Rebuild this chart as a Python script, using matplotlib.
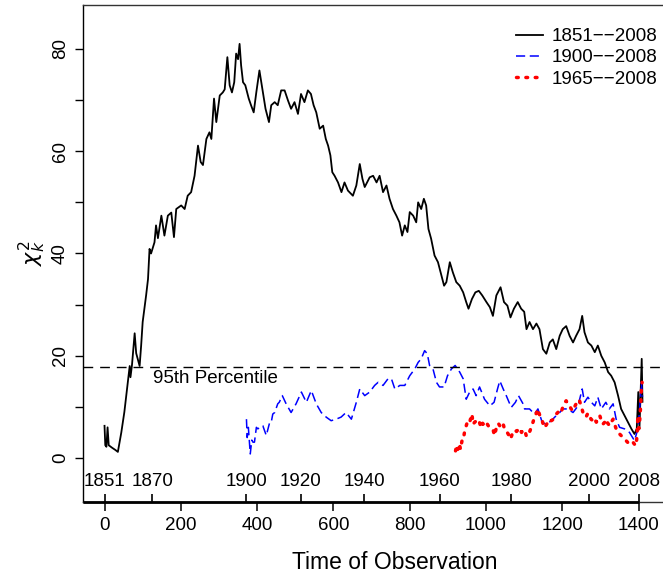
import matplotlib
matplotlib.use('Agg')
import matplotlib.pyplot as plt
from matplotlib.ticker import MultipleLocator, FixedLocator, NullFormatter

plt.rcParams['font.family'] = ['Liberation Sans', 'DejaVu Sans']

# full record 1851--2008
idx_all = [0, 2, 5, 8, 11, 20, 28, 35, 44, 52, 61, 66, 68, 72, 79, 83, 92, 96, 100, 109,
           114, 118, 122, 131, 135, 140, 149, 157, 166, 175, 182, 188, 201, 210, 218, 227,
           236, 245, 252, 258, 267, 275, 280, 287, 293, 302, 310, 315, 322, 328, 334, 340,
           345, 350, 354, 358, 363, 369, 378, 384, 391, 398, 406, 415, 422, 431, 437, 446,
           454, 463, 472, 481, 489, 498, 507, 515, 524, 533, 541, 548, 555, 564, 573, 580,
           586, 592, 597, 603, 612, 621, 629, 638, 651, 660, 669, 676, 682, 695, 704, 713,
           721, 730, 739, 747, 756, 765, 773, 780, 787, 794, 800, 809, 817, 822, 830, 837,
           843, 849, 856, 865, 874, 881, 890, 896, 905, 913, 922, 931, 940, 948, 954, 963,
           972, 981, 990, 1001, 1010, 1018, 1027, 1038, 1047, 1056, 1064, 1073, 1083, 1092,
           1100, 1106, 1114, 1123, 1132, 1140, 1149, 1158, 1167, 1175, 1184, 1193, 1201,
           1210, 1219, 1228, 1236, 1245, 1252, 1258, 1267, 1276, 1285, 1293, 1302, 1311,
           1320, 1328, 1337, 1346, 1354, 1363, 1372, 1381, 1389, 1395, 1399, 1402, 1408, 1410]
chi_all = [6.3, 2.5, 2.2, 6.0, 2.5, 2.0, 1.6, 1.2, 5.0, 9.0, 14.8, 18.0, 15.8, 18.2, 24.4,
           20.5, 18.0, 22.0, 26.6, 31.8, 35.0, 40.9, 40.0, 42.2, 45.5, 43.0, 47.4, 43.5,
           47.4, 48.0, 43.2, 48.7, 49.4, 48.7, 51.3, 52.0, 55.2, 61.1, 57.9, 57.3, 62.4,
           63.7, 62.4, 70.3, 65.7, 70.9, 71.5, 72.1, 78.4, 72.9, 71.5, 73.5, 79.1, 78.0,
           81.0, 76.8, 73.5, 72.9, 70.3, 69.0, 67.6, 71.6, 75.8, 71.6, 68.3, 65.7, 69.0,
           69.6, 69.0, 71.9, 71.9, 69.9, 68.3, 69.6, 67.3, 71.2, 69.6, 71.9, 71.2, 69.0,
           67.6, 64.4, 65.0, 62.4, 61.1, 59.2, 55.9, 55.2, 53.9, 52.0, 53.9, 52.3, 51.3,
           53.3, 57.5, 54.6, 53.0, 54.9, 55.2, 53.9, 55.2, 52.0, 53.3, 50.7, 48.7, 47.4,
           46.1, 43.5, 45.5, 44.2, 48.1, 47.4, 46.1, 50.0, 48.7, 50.7, 49.4, 44.8, 42.9,
           39.6, 38.3, 36.3, 33.7, 34.4, 38.3, 36.3, 34.4, 33.7, 32.4, 30.5, 29.2, 31.1,
           32.4, 32.7, 31.8, 30.5, 29.5, 27.8, 31.8, 33.4, 30.5, 29.8, 27.5, 29.2, 30.5,
           29.2, 28.6, 25.2, 26.6, 25.2, 26.3, 25.2, 21.3, 20.4, 22.6, 23.2, 21.3, 23.9,
           25.2, 25.8, 23.9, 22.6, 23.9, 25.2, 27.8, 24.6, 22.6, 22.0, 20.7, 22.0, 20.0,
           18.7, 16.8, 16.1, 14.8, 12.2, 9.6, 8.3, 7.0, 5.7, 4.7, 5.7, 12.9, 5.7, 19.4, 11.0]

# record from 1900
idx_1900 = [372, 374, 377, 382, 386, 389, 393, 398, 402, 411, 415, 424, 433, 437, 441, 446,
            454, 458, 466, 476, 489, 502, 516, 529, 542, 555, 568, 581, 594, 607, 620, 633,
            647, 660, 669, 682, 695, 708, 717, 730, 743, 752, 761, 774, 787, 800, 813, 822,
            830, 839, 846, 852, 861, 870, 878, 890, 899, 909, 919, 931, 940, 948, 957, 966,
            974, 983, 996, 1010, 1021, 1030, 1036, 1045, 1053, 1066, 1077, 1085, 1097, 1101,
            1114, 1127, 1136, 1147, 1158, 1171, 1184, 1193, 1201, 1214, 1228, 1241, 1252,
            1258, 1267, 1276, 1285, 1293, 1302, 1314, 1323, 1333, 1341, 1350, 1363, 1376,
            1389, 1398, 1402, 1407, 1410]
chi_1900 = [7.6, 4.0, 6.0, 0.8, 3.5, 3.1, 3.1, 6.0, 5.7, 6.3, 6.3, 4.4, 7.0, 7.0, 8.6, 8.9,
            10.6, 10.9, 12.2, 10.6, 8.9, 10.6, 12.9, 10.9, 13.2, 10.6, 8.9, 8.0, 7.3, 7.6,
            8.0, 8.9, 7.6, 10.9, 13.5, 12.2, 12.9, 14.2, 14.8, 14.2, 15.5, 15.5, 13.5, 14.2,
            14.2, 16.1, 17.4, 18.7, 19.4, 21.0, 20.4, 18.1, 17.4, 14.8, 13.9, 13.9, 16.1,
            17.4, 18.1, 16.8, 15.5, 11.5, 12.9, 13.5, 12.2, 13.9, 11.5, 10.2, 10.9, 13.5,
            15.1, 13.5, 12.2, 9.9, 10.9, 12.2, 10.6, 9.6, 9.6, 8.6, 9.6, 7.0, 6.6, 7.3, 8.3,
            8.9, 9.6, 9.6, 8.9, 10.2, 13.5, 10.9, 11.9, 10.9, 10.2, 11.9, 9.6, 10.9, 9.6,
            10.6, 7.6, 6.0, 5.7, 5.0, 3.4, 5.7, 8.9, 14.8, 12.0]

# record from 1965
idx_1965 = [920, 923, 926, 930, 933, 937, 940, 944, 948, 952, 957, 963, 966, 970, 975, 979,
            983, 987, 991, 996, 1001, 1006, 1012, 1018, 1022, 1027, 1032, 1036, 1041, 1045,
            1049, 1053, 1058, 1064, 1070, 1075, 1080, 1088, 1093, 1097, 1101, 1106, 1110,
            1114, 1118, 1123, 1127, 1132, 1136, 1140, 1145, 1149, 1153, 1158, 1162, 1167,
            1171, 1175, 1180, 1184, 1188, 1193, 1197, 1201, 1206, 1210, 1214, 1219, 1223,
            1228, 1232, 1236, 1241, 1245, 1250, 1254, 1258, 1262, 1267, 1271, 1275, 1280,
            1284, 1289, 1293, 1298, 1302, 1306, 1311, 1315, 1319, 1324, 1328, 1333, 1337,
            1341, 1345, 1350, 1354, 1359, 1363, 1367, 1372, 1376, 1380, 1385, 1389, 1393,
            1396, 1398, 1400, 1402, 1405, 1407, 1409]
chi_1965 = [1.4, 2.5, 1.7, 2.8, 1.7, 3.4, 3.4, 5.3, 6.3, 7.3, 7.0, 8.6, 6.6, 7.0, 7.3, 6.6,
            6.9, 5.9, 6.8, 6.3, 6.9, 6.3, 6.1, 5.7, 4.4, 5.9, 6.8, 6.3, 7.0, 6.6, 5.5, 5.3,
            4.7, 3.7, 5.0, 5.5, 5.2, 5.9, 5.0, 5.5, 5.5, 4.2, 4.4, 5.1, 5.9, 7.0, 8.0, 8.8,
            9.6, 8.5, 8.0, 6.8, 5.9, 6.5, 7.0, 7.6, 7.3, 7.5, 7.9, 8.6, 8.9, 9.4, 9.0, 9.9,
            10.8, 11.2, 10.5, 10.2, 9.6, 9.2, 10.0, 10.6, 10.4, 11.2, 10.0, 8.9, 8.3, 8.0,
            8.8, 8.3, 7.6, 7.3, 7.8, 7.0, 7.5, 8.3, 7.4, 6.6, 7.0, 7.6, 6.8, 6.3, 7.0, 7.6,
            6.6, 5.7, 5.0, 4.7, 4.4, 4.1, 3.8, 3.4, 3.0, 2.8, 3.2, 3.1, 2.7, 2.4, 4.5, 8.3,
            5.7, 6.5, 10.0, 13.5, 14.8]

percentile_95 = 17.9

year_ticks = [0, 125, 372, 514, 680, 878, 1066, 1269, 1400]
year_labels = ['1851', '1870', '1900', '1920', '1940', '1960', '1980', '2000', '2008']

XLIM = (-56.4, 1466.4)
YLIM = (-8.6, 88.6)
FS = 13.5


def main():
    fig = plt.figure(figsize=(6.63, 5.78), dpi=100)
    ax = fig.add_axes([83 / 663, 1 - 502 / 578, 581 / 663, 497 / 578])

    ax.plot(idx_all, chi_all, color='black', lw=1.3, label='1851\u2212\u22122008')
    ax.plot(idx_1900, chi_1900, color='blue', lw=1.1, dashes=(6, 3),
            label='1900\u2212\u22122008')
    ax.plot(idx_1965, chi_1965, color='red', lw=2.5, dashes=(0.5, 2.2),
            dash_capstyle='round', label='1965\u2212\u22122008')

    ax.axhline(percentile_95, color='black', lw=1.0, dashes=(7, 5))
    ax.text(292, 15.6, '95th Percentile', ha='center', va='center', fontsize=FS)

    # year labels sit just above the bottom frame, ticks point inward
    for x, lab in zip(year_ticks, year_labels):
        ax.text(x, -4.6, lab, ha='center', va='center', fontsize=FS)
    ax.xaxis.remove_overlapping_locs = False
    ax.xaxis.set_minor_locator(FixedLocator(year_ticks))
    ax.xaxis.set_minor_formatter(NullFormatter())
    ax.tick_params(axis='x', which='minor', direction='in', length=5.5, width=1.2)
    ax.plot([XLIM[0], year_ticks[-1]], [YLIM[0], YLIM[0]], color='black', lw=2.0,
            clip_on=False, solid_capstyle='butt', zorder=5)

    ax.set_xlim(*XLIM)
    ax.set_ylim(*YLIM)
    ax.set_xticks(range(0, 1401, 200))
    ax.set_yticks(range(0, 81, 20))
    ax.yaxis.set_minor_locator(MultipleLocator(10))
    ax.tick_params(axis='x', which='major', length=6.5, width=1.1, pad=4, labelsize=FS)
    ax.tick_params(axis='y', which='major', length=6, width=1.0, pad=4, labelsize=FS)
    ax.tick_params(axis='y', which='minor', length=6, width=1.0)
    for lab in ax.get_yticklabels():
        lab.set_rotation(90)
        lab.set_va('center')
    for s in ax.spines.values():
        s.set_color('#333333')
        s.set_linewidth(1.0)
    ax.spines['left'].set_color('black')

    ax.set_xlabel('Time of Observation', fontsize=16.5)
    ax.xaxis.set_label_coords(0.536, -0.099)
    ax.set_ylabel(r'$\chi^2_k$', fontsize=16, labelpad=3)

    ax.legend(loc='upper right', bbox_to_anchor=(657 / 663, 1 - 28 / 578),
              bbox_transform=fig.transFigure, frameon=False, fontsize=FS,
              handlelength=1.45, handletextpad=0.45, labelspacing=0.22,
              borderaxespad=0, borderpad=0)

    fig.savefig('out.png', dpi=100)


if __name__ == "__main__":
    main()
